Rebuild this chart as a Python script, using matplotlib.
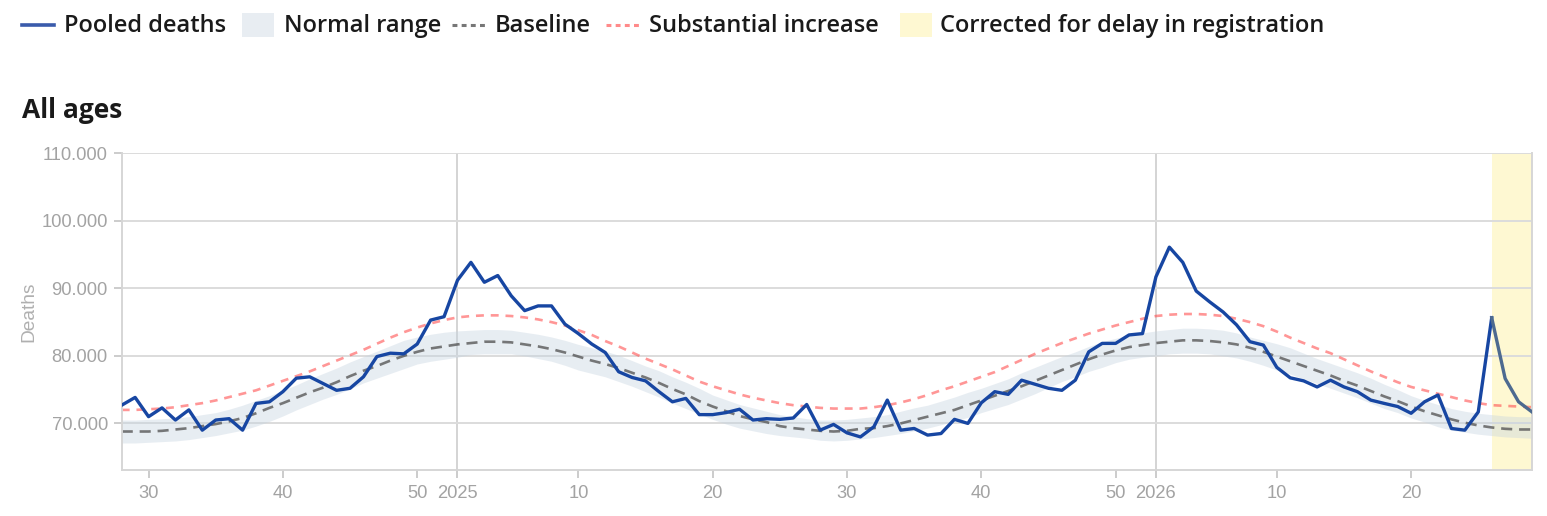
import numpy as np
import matplotlib
matplotlib.use("Agg")
import matplotlib.pyplot as plt
from matplotlib.ticker import FuncFormatter, FixedLocator
from matplotlib.lines import Line2D
from matplotlib.patches import Rectangle

# ---------------- data (weekly, 2024-W28 .. 2026-W29) ----------------
start_offset = -25  # 2024-W28 relative to 2025-W01

pooled = [72.7, 73.85, 71.0, 72.3, 70.5, 72.0, 69.0, 70.5, 70.7, 69.0,
          72.96, 73.2, 74.7, 76.7, 76.9, 75.9, 74.9, 75.2, 76.9, 79.9,
          80.4, 80.3, 81.75, 85.3, 85.8, 91.2, 93.85, 90.9, 91.9, 88.9,
          86.7, 87.4, 87.4, 84.7, 83.3, 81.75, 80.5, 77.65, 76.8, 76.3,
          74.7, 73.2, 73.7, 71.3, 71.3, 71.6, 72.1, 70.5, 70.7, 70.6,
          70.8, 72.8, 69.0, 69.85, 68.6, 68.0, 69.5, 73.45, 69.0, 69.25,
          68.27, 68.5, 70.6, 70.0, 73.05, 74.7, 74.3, 76.4, 75.8, 75.2,
          74.9, 76.4, 80.6, 81.85, 81.85, 83.1, 83.3, 91.7, 96.1, 93.85,
          89.6, 88.0, 86.5, 84.6, 82.1, 81.6, 78.3, 76.75, 76.3, 75.4,
          76.4, 75.4, 74.7, 73.45, 72.96, 72.5, 71.5, 73.2, 74.2, 69.25,
          69.0, 71.7, 85.65, 76.65, 73.2, 71.7]

baseline = [68.8, 68.8, 68.8, 68.9, 69.1, 69.3, 69.6, 69.9, 70.3, 70.8,
            71.5, 72.3, 73.0, 73.8, 74.6, 75.3, 76.1, 77.0, 77.8, 78.5,
            79.3, 80.0, 80.6, 81.1, 81.4, 81.7, 81.9, 82.1, 82.1, 82.0,
            81.7, 81.4, 81.0, 80.5, 79.9, 79.3, 78.8, 78.2, 77.5, 76.8,
            76.0, 75.1, 74.3, 73.3, 72.5, 71.8, 71.1, 70.6, 70.2, 69.6,
            69.3, 69.1, 68.9, 68.8, 68.9, 69.2, 69.3, 69.6, 70.0, 70.5,
            71.0, 71.5, 72.0, 72.7, 73.4, 74.1, 74.8, 75.5, 76.3, 77.1,
            77.9, 78.7, 79.5, 80.2, 80.8, 81.3, 81.6, 81.9, 82.1, 82.3,
            82.3, 82.2, 82.0, 81.7, 81.2, 80.6, 79.9, 79.2, 78.5, 77.8,
            77.1, 76.3, 75.6, 74.8, 74.0, 73.3, 72.5, 71.8, 71.2, 70.6,
            70.1, 69.7, 69.4, 69.2, 69.1, 69.1]

normal_upper = [70.5, 70.5, 70.6, 70.7, 70.8, 71.0, 71.3, 71.6, 72.1, 72.7,
                73.4, 74.1, 74.9, 75.7, 76.6, 77.4, 78.2, 79.1, 79.9, 80.7,
                81.5, 82.3, 82.8, 83.2, 83.5, 83.7, 83.8, 83.9, 83.9, 83.8,
                83.5, 83.2, 82.8, 82.3, 81.7, 81.2, 80.7, 80.1, 79.3, 78.5,
                77.8, 76.9, 76.1, 75.2, 74.2, 73.5, 72.8, 72.3, 71.8, 71.3,
                71.0, 70.7, 70.5, 70.5, 70.6, 70.8, 71.0, 71.3, 71.8, 72.3,
                72.7, 73.3, 73.9, 74.6, 75.2, 75.9, 76.6, 77.5, 78.3, 79.1,
                79.9, 80.6, 81.4, 82.1, 82.6, 83.1, 83.4, 83.7, 83.9, 84.1,
                84.1, 84.0, 83.8, 83.4, 82.8, 82.3, 81.8, 81.2, 80.4, 79.6,
                78.9, 78.2, 77.5, 76.7, 75.8, 75.0, 74.1, 73.4, 72.8, 72.2,
                71.8, 71.5, 71.3, 71.1, 71.0, 71.0]

normal_lower = [67.1, 67.1, 67.2, 67.3, 67.4, 67.6, 67.9, 68.2, 68.6, 69.0,
                69.6, 70.3, 71.1, 72.0, 72.8, 73.6, 74.3, 75.1, 76.0, 76.7,
                77.4, 78.1, 78.8, 79.2, 79.5, 79.8, 80.2, 80.3, 80.3, 80.3,
                80.0, 79.6, 79.2, 78.6, 77.9, 77.4, 76.9, 76.2, 75.5, 74.7,
                73.9, 73.0, 72.2, 71.4, 70.6, 69.9, 69.3, 68.9, 68.5, 68.2,
                68.0, 67.8, 67.5, 67.4, 67.5, 67.7, 67.9, 68.2, 68.5, 68.9,
                69.3, 69.8, 70.3, 70.9, 71.6, 72.2, 72.8, 73.6, 74.4, 75.3,
                76.2, 76.9, 77.7, 78.3, 79.0, 79.5, 79.8, 80.0, 80.3, 80.4,
                80.4, 80.3, 80.0, 79.7, 79.2, 78.6, 77.9, 77.3, 76.6, 75.9,
                75.2, 74.5, 73.8, 73.0, 72.2, 71.6, 70.8, 70.2, 69.5, 69.0,
                68.7, 68.4, 68.2, 68.0, 67.9, 67.8]

substantial = [72.0, 72.0, 72.1, 72.2, 72.4, 72.7, 73.0, 73.4, 73.9, 74.4,
               74.9, 75.6, 76.3, 77.0, 77.7, 78.5, 79.3, 80.1, 80.9, 81.8,
               82.7, 83.5, 84.2, 84.8, 85.3, 85.7, 85.9, 86.0, 86.0, 85.9,
               85.7, 85.4, 85.0, 84.5, 83.8, 83.1, 82.2, 81.4, 80.5, 79.6,
               78.8, 78.0, 77.1, 76.2, 75.5, 74.9, 74.3, 73.8, 73.4, 73.0,
               72.7, 72.5, 72.3, 72.2, 72.2, 72.2, 72.4, 72.7, 73.1, 73.6,
               74.2, 74.9, 75.5, 76.2, 76.9, 77.6, 78.5, 79.4, 80.3, 81.1,
               81.9, 82.6, 83.3, 83.9, 84.5, 85.0, 85.5, 85.9, 86.1, 86.2,
               86.2, 86.1, 85.9, 85.5, 85.0, 84.4, 83.6, 82.7, 81.9, 81.1,
               80.4, 79.5, 78.6, 77.7, 76.9, 76.1, 75.4, 74.9, 74.4, 73.9,
               73.4, 73.0, 72.7, 72.6, 72.5, 72.4]

corrected_from = 77          # first week (rel. to 2025-W01) corrected for delay
tick_weeks = [-23, -13, -3, 0, 9, 19, 29, 39, 49, 52, 61, 71]
tick_labels = ["30", "40", "50", "2025", "10", "20", "30", "40", "50", "2026", "10", "20"]
year_starts = [0, 52]
y_ticks = [70000, 80000, 90000, 100000, 110000]

# ---------------- figure ----------------
W, H = 1547, 516
fig = plt.figure(figsize=(W / 100, H / 100), dpi=100)
ax = fig.add_axes([121.7 / W, 1 - 470 / H, (1532 - 121.7) / W, (470 - 153.3) / H])

x = np.arange(len(pooled)) + start_offset
k = lambda a: np.asarray(a) * 1000.0
x_end = x[-1]

TICK_GRAY = "#a3a3a3"
GRID = "#dcdcdc"

ax.axvspan(corrected_from, x_end, color="#fef8d2", zorder=0, lw=0)
ax.fill_between(x, k(normal_lower), k(normal_upper), color="#c5d3e0", alpha=0.4,
                lw=0, zorder=1)
ax.plot(x, k(baseline), color="#555555", alpha=0.78, lw=1.9,
        dashes=(4.2, 2.6), zorder=2)
ax.plot(x, k(substantial), color="#ff5050", alpha=0.6, lw=1.9,
        dashes=(3.0, 2.6), zorder=2)
m = x <= corrected_from
ax.plot(x[m], k(pooled)[m], color="#1746a2", lw=2.4, zorder=4)
m2 = x >= corrected_from
ax.plot(x[m2], k(pooled)[m2], color="#4d6a90", lw=2.4, zorder=4)

for ys in year_starts:
    ax.axvline(ys, color="#d4d4d4", lw=1.4, zorder=0.5)

ax.set_xlim(start_offset, x_end)
ax.set_ylim(63100, 110000)
ax.yaxis.set_major_locator(FixedLocator(y_ticks))
ax.yaxis.set_major_formatter(FuncFormatter(lambda v, p: f"{int(v):,}".replace(",", ".")))
ax.grid(axis="y", color=GRID, lw=1.4, zorder=0.3)
ax.set_axisbelow(True)
ax.set_xticks(tick_weeks)
ax.set_xticklabels(tick_labels)

ax.spines["top"].set_visible(False)
for side in ["left", "bottom", "right"]:
    ax.spines[side].set_color("#d6d6d6")
    ax.spines[side].set_linewidth(1.4)

ax.tick_params(axis="both", colors="#cccccc", labelcolor=TICK_GRAY, width=1.4,
               length=6, labelsize=13.2)
ax.tick_params(axis="x", pad=5)
ax.tick_params(axis="y", pad=4)
for lab in ax.get_xticklabels() + ax.get_yticklabels():
    lab.set_fontfamily("Liberation Sans")
ax.set_ylabel("Deaths", color="#b0b0b0", fontsize=13.8, fontfamily="Liberation Sans",
              labelpad=3)

# title
fig.text(22 / W, 1 - 118 / H, "All ages", fontsize=19, fontweight="bold",
         fontfamily="Open Sans", color="#1a1a1a", va="baseline", ha="left")

# legend (drawn in pixel space)
lg = fig.add_axes([0, 0, 1, 1], facecolor="none")
lg.set_xlim(0, W)
lg.set_ylim(H, 0)
lg.axis("off")
ly = 25
lbase = 32
lfs = 17
lkw = dict(fontsize=lfs, fontweight=600, fontfamily="Open Sans", color="#1a1a1a",
           va="baseline", ha="left")
lg.add_line(Line2D([22, 54], [ly, ly], color="#3a5bab", lw=2.6))
lg.text(64, lbase, "Pooled deaths", **lkw)
lg.add_patch(Rectangle((242, ly - 12), 32, 24, color="#e8edf2", lw=0))
lg.text(284, lbase, "Normal range", **lkw)
lg.add_line(Line2D([452, 486], [ly, ly], color="#777777", lw=2.2, dashes=(1.6, 1.4)))
lg.text(495, lbase, "Baseline", **lkw)
lg.add_line(Line2D([606, 640], [ly, ly], color="#ff8a8a", lw=2.2, dashes=(1.6, 1.4)))
lg.text(649, lbase, "Substantial increase", **lkw)
lg.add_patch(Rectangle((900, ly - 12), 32, 24, color="#fef8d2", lw=0))
lg.text(940, lbase, "Corrected for delay in registration", **lkw)

fig.savefig("out.png", dpi=100)
